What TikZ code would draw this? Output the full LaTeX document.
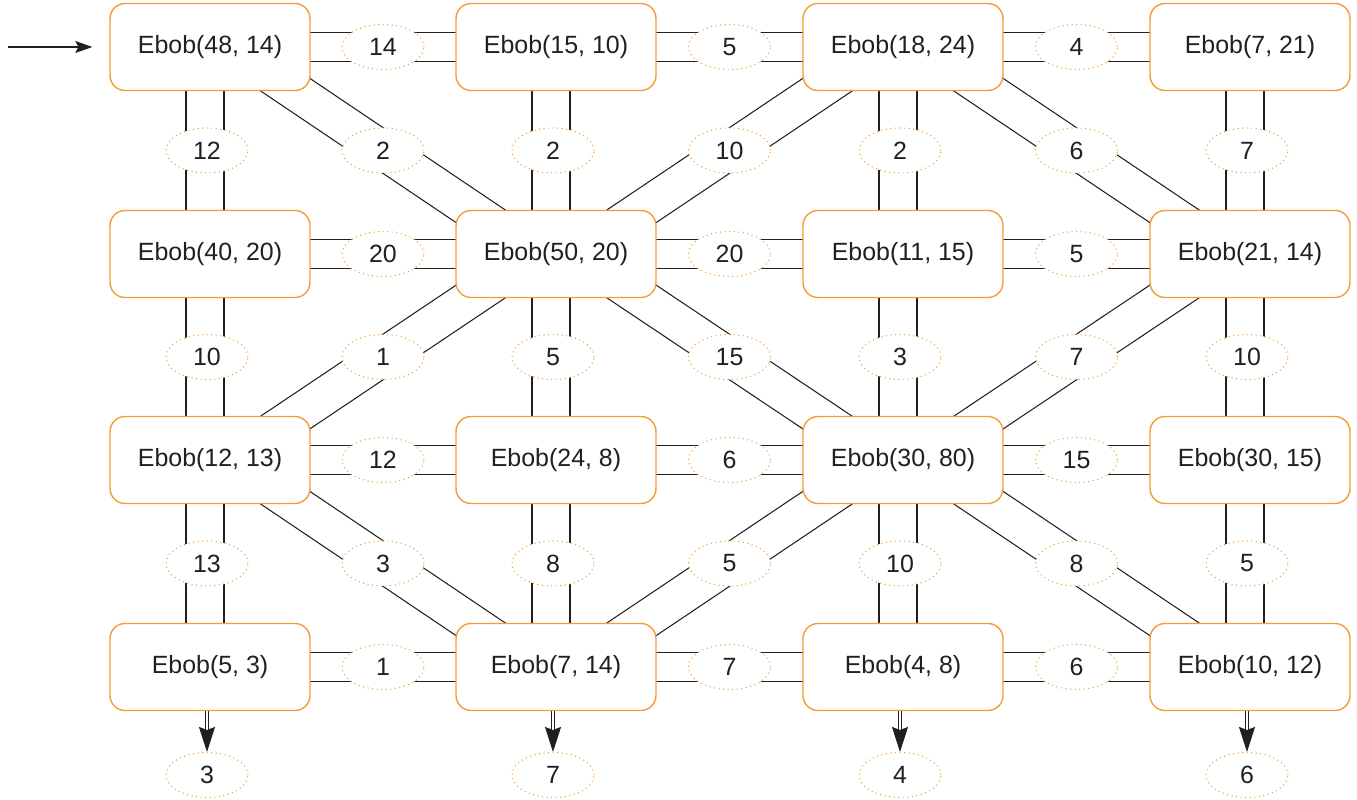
\documentclass[tikz,border=0pt]{standalone}
\usepackage{fontspec}
\setmainfont{Liberation Sans}
\usetikzlibrary{arrows.meta,backgrounds,calc,shapes.geometric}
\definecolor{boxorange}{RGB}{246,156,52}
\definecolor{inkgray}{RGB}{35,31,32}
\begin{document}
\begin{tikzpicture}[x=0.02cm, y=-0.02cm, >=Stealth,
  ebob/.style={draw=boxorange, line width=0.8pt, fill=white, rounded corners=0.3cm, minimum width=4cm, minimum height=1.74cm, inner sep=0pt, text=inkgray, font=\fontsize{14.2}{17}\selectfont},
  val/.style={ellipse, draw=boxorange, dotted, line width=0.6pt, fill=white, minimum width=1.64cm, minimum height=0.9cm, inner sep=0pt, text=inkgray, font=\fontsize{14.2}{17}\selectfont},
  wire/.style={draw=inkgray, line width=0.6pt},
  hlink/.style={preaction={wire, transform canvas={yshift=0.29cm}}, postaction={wire, transform canvas={yshift=-0.29cm}}},
  vlink/.style={preaction={wire, transform canvas={xshift=0.38cm}}, postaction={wire, transform canvas={xshift=-0.38cm}}},
  drlink/.style={preaction={wire, transform canvas={shift={(0.212cm,0.315cm)}}}, postaction={wire, transform canvas={shift={(-0.212cm,-0.315cm)}}}},
  dllink/.style={preaction={wire, transform canvas={shift={(0.212cm,-0.315cm)}}}, postaction={wire, transform canvas={shift={(-0.212cm,0.315cm)}}}},
  outlink/.style={draw=inkgray, line width=0.5pt, double=white, double distance=0.05cm, -{Stealth[length=0.5cm, width=0.32cm, inset=0.06cm]}}]
\useasboundingbox (0,0) rectangle (1357,800);
% boxes
\node[ebob] (n11) at (210,47) {Ebob(48, 14)};
\node[ebob] (n12) at (556,47) {Ebob(15, 10)};
\node[ebob] (n13) at (903,47) {Ebob(18, 24)};
\node[ebob] (n14) at (1250,47) {Ebob(7, 21)};
\node[ebob] (n21) at (210,254) {Ebob(40, 20)};
\node[ebob] (n22) at (556,254) {Ebob(50, 20)};
\node[ebob] (n23) at (903,254) {Ebob(11, 15)};
\node[ebob] (n24) at (1250,254) {Ebob(21, 14)};
\node[ebob] (n31) at (210,460) {Ebob(12, 13)};
\node[ebob] (n32) at (556,460) {Ebob(24, 8)};
\node[ebob] (n33) at (903,460) {Ebob(30, 80)};
\node[ebob] (n34) at (1250,460) {Ebob(30, 15)};
\node[ebob] (n41) at (210,667) {Ebob(5, 3)};
\node[ebob] (n42) at (556,667) {Ebob(7, 14)};
\node[ebob] (n43) at (903,667) {Ebob(4, 8)};
\node[ebob] (n44) at (1250,667) {Ebob(10, 12)};
% results
\node[val] (o1) at (207,775) {3};
\node[val] (o2) at (553,775) {7};
\node[val] (o3) at (900,775) {4};
\node[val] (o4) at (1247,775) {6};
% weights
\node[val] (h11) at ($(n11)!0.5!(n12)$) {14};
\node[val] (h12) at ($(n12)!0.5!(n13)$) {5};
\node[val] (h13) at ($(n13)!0.5!(n14)$) {4};
\node[val] (h21) at ($(n21)!0.5!(n22)$) {20};
\node[val] (h22) at ($(n22)!0.5!(n23)$) {20};
\node[val] (h23) at ($(n23)!0.5!(n24)$) {5};
\node[val] (h31) at ($(n31)!0.5!(n32)$) {12};
\node[val] (h32) at ($(n32)!0.5!(n33)$) {6};
\node[val] (h33) at ($(n33)!0.5!(n34)$) {15};
\node[val] (h41) at ($(n41)!0.5!(n42)$) {1};
\node[val] (h42) at ($(n42)!0.5!(n43)$) {7};
\node[val] (h43) at ($(n43)!0.5!(n44)$) {6};
\node[val] (v11) at ($(n11)!0.5!(n21)+(-3,0)$) {12};
\node[val] (v21) at ($(n21)!0.5!(n31)+(-3,0)$) {10};
\node[val] (v31) at ($(n31)!0.5!(n41)+(-3,0)$) {13};
\node[val] (v12) at ($(n12)!0.5!(n22)+(-3,0)$) {2};
\node[val] (v22) at ($(n22)!0.5!(n32)+(-3,0)$) {5};
\node[val] (v32) at ($(n32)!0.5!(n42)+(-3,0)$) {8};
\node[val] (v13) at ($(n13)!0.5!(n23)+(-3,0)$) {2};
\node[val] (v23) at ($(n23)!0.5!(n33)+(-3,0)$) {3};
\node[val] (v33) at ($(n33)!0.5!(n43)+(-3,0)$) {10};
\node[val] (v14) at ($(n14)!0.5!(n24)+(-3,0)$) {7};
\node[val] (v24) at ($(n24)!0.5!(n34)+(-3,0)$) {10};
\node[val] (v34) at ($(n34)!0.5!(n44)+(-3,0)$) {5};
\node[val] (d1) at ($(n11)!0.5!(n22)$) {2};
\node[val] (d2) at ($(n13)!0.5!(n22)$) {10};
\node[val] (d3) at ($(n13)!0.5!(n24)$) {6};
\node[val] (d4) at ($(n22)!0.5!(n31)$) {1};
\node[val] (d5) at ($(n22)!0.5!(n33)$) {15};
\node[val] (d6) at ($(n24)!0.5!(n33)$) {7};
\node[val] (d7) at ($(n31)!0.5!(n42)$) {3};
\node[val] (d8) at ($(n33)!0.5!(n42)$) {5};
\node[val] (d9) at ($(n33)!0.5!(n44)$) {8};
% links
\begin{scope}[on background layer]
\path[hlink] (n11.center) -- (n12.center) -- (n13.center) -- (n14.center);
\path[hlink] (n21.center) -- (n22.center) -- (n23.center) -- (n24.center);
\path[hlink] (n31.center) -- (n32.center) -- (n33.center) -- (n34.center);
\path[hlink] (n41.center) -- (n42.center) -- (n43.center) -- (n44.center);
\path[vlink] ($(n11.center)+(-5,0)$) -- ($(n41.center)+(-5,0)$);
\path[vlink] ($(n12.center)+(-5,0)$) -- ($(n42.center)+(-5,0)$);
\path[vlink] ($(n13.center)+(-5,0)$) -- ($(n43.center)+(-5,0)$);
\path[vlink] ($(n14.center)+(-5,0)$) -- ($(n44.center)+(-5,0)$);
\path[drlink] ($(n11.center)+(0,-13)$) -- ($(n22.center)+(0,13)$);
\path[dllink] ($(n13.center)+(0,-13)$) -- ($(n22.center)+(0,13)$);
\path[drlink] ($(n13.center)+(0,-13)$) -- ($(n24.center)+(0,13)$);
\path[dllink] ($(n22.center)+(0,-13)$) -- ($(n31.center)+(0,13)$);
\path[drlink] ($(n22.center)+(0,-13)$) -- ($(n33.center)+(0,13)$);
\path[dllink] ($(n24.center)+(0,-13)$) -- ($(n33.center)+(0,13)$);
\path[drlink] ($(n31.center)+(0,-13)$) -- ($(n42.center)+(0,13)$);
\path[dllink] ($(n33.center)+(0,-13)$) -- ($(n42.center)+(0,13)$);
\path[drlink] ($(n33.center)+(0,-13)$) -- ($(n44.center)+(0,13)$);
\end{scope}
\draw[outlink] (n41.south -| o1) -- (o1);
\draw[outlink] (n42.south -| o2) -- (o2);
\draw[outlink] (n43.south -| o3) -- (o3);
\draw[outlink] (n44.south -| o4) -- (o4);
% entry
\coordinate (start) at (8,47);
\draw[inkgray, line width=0.6pt, -{Stealth[length=0.34cm, width=0.24cm, inset=0.06cm]}, shorten >=0.34cm] (start) -- (n11);
\end{tikzpicture}
\end{document}
